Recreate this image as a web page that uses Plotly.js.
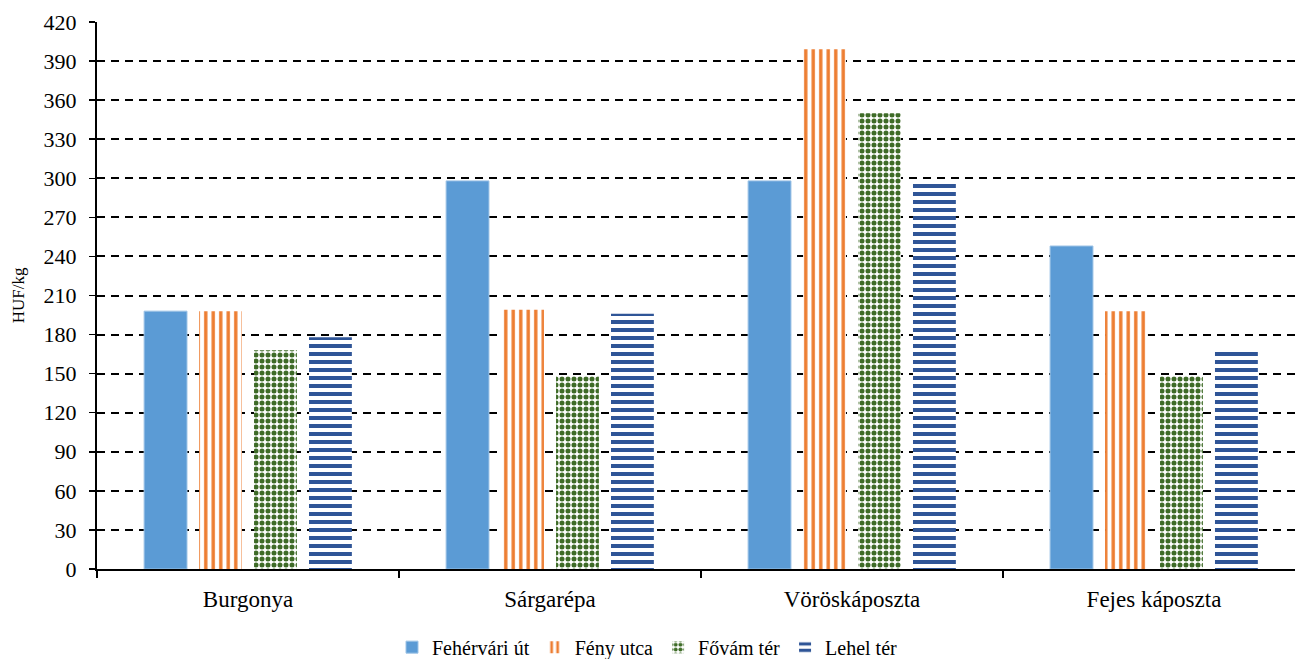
<!DOCTYPE html>
<html>
<head>
<meta charset="utf-8">
<script src="https://cdn.plot.ly/plotly-3.0.1.min.js"></script>
<style>html,body{margin:0;padding:0;background:#fff;overflow:hidden}</style>
</head>
<body>
<div id="chart" style="width:1295px;height:659px"></div>
<script>
const categories = ["Burgonya", "Sárgarépa", "Vöröskáposzta", "Fejes káposzta"];
const seriesNames = ["Fehérvári út", "Fény utca", "Fővám tér", "Lehel tér"];
const fehervari = [198, 298, 298, 248];
const fenyUtca = [198, 199, 399, 198];
const fovamTer = [168, 148, 350, 148];
const lehelTer = [178, 196, 297, 167];
const yTicks = [0,30,60,90,120,150,180,210,240,270,300,330,360,390,420];

const fam = 'Liberation Serif, Times New Roman, serif';
const f = (size) => ({family: fam, size: size, color: '#000'});

const traces = [
  {name: seriesNames[0], y: fehervari, marker: {color: '#5B9BD5', line: {color: '#9DC3E6', width: 1}}},
  {name: seriesNames[1], y: fenyUtca, marker: {color: '#ED7D31', line: {width: 0},
     pattern: {shape: '|', bgcolor: '#ffffff', fgcolor: '#ED7D31', size: 7.5, solidity: 0.45}}},
  {name: seriesNames[2], y: fovamTer, marker: {color: '#3E6B27', line: {width: 0},
     pattern: {shape: '.', bgcolor: '#ffffff', fgcolor: '#3E6B27', size: 6, solidity: 0.55}}},
  {name: seriesNames[3], y: lehelTer, marker: {color: '#2F5597', line: {width: 0},
     pattern: {shape: '-', bgcolor: '#ffffff', fgcolor: '#2F5597', size: 8, solidity: 0.5}}}
].map(t => Object.assign({type: 'bar', x: categories, hoverinfo: 'y'}, t));

const layout = {
  width: 1295, height: 659,
  margin: {l: 97, r: 0, t: 22, b: 90, autoexpand: false},
  paper_bgcolor: '#fff', plot_bgcolor: '#fff',
  font: f(20),
  barmode: 'group', bargap: 0.272, bargroupgap: 0.22,
  showlegend: true,
  legend: {orientation: 'h', x: 0.5, xanchor: 'center', xref: 'container',
           y: 0.018, yanchor: 'middle', yref: 'container',
           font: f(20), itemwidth: 30, traceorder: 'normal'},
  xaxis: {
    type: 'category', range: [-0.5, 3.467], automargin: false,
    showline: true, linecolor: '#000', linewidth: 2,
    ticks: 'outside', tickson: 'boundaries', ticklen: 7, tickcolor: '#000', tickwidth: 1.5,
    ticklabelstandoff: 8,
    showgrid: false, zeroline: false,
    tickfont: f(23)
  },
  yaxis: {
    range: [0, 420], tickvals: yTicks, ticktext: yTicks.map(String), automargin: false,
    showline: true, linecolor: '#000', linewidth: 2,
    ticks: 'outside', ticklen: 6, tickcolor: '#000', tickwidth: 1.5,
    ticklabelstandoff: 8,
    showgrid: true, gridcolor: '#000', gridwidth: 2, griddash: '8px,6px',
    zeroline: false,
    tickfont: f(22),
    title: {text: 'HUF/kg', font: f(17), standoff: 15}
  }
};

Plotly.newPlot('chart', traces, layout, {displayModeBar: false, staticPlot: true});
</script>
</body>
</html>
